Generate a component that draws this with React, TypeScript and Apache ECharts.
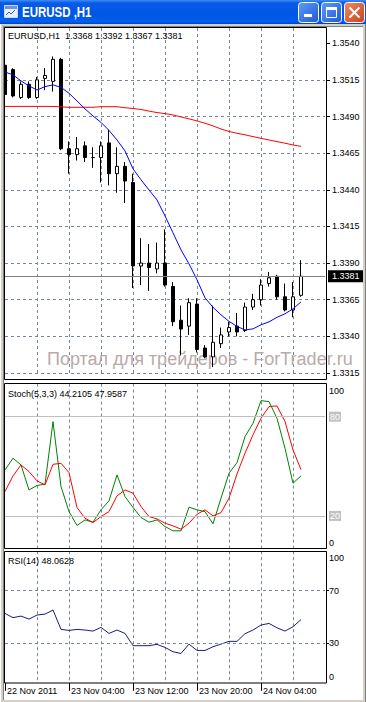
import React, { useEffect, useRef } from 'react';
import * as echarts from 'echarts';

// ---------- data ----------
const categories = [
  '22 Nov 20:00', '22 Nov 21:00', '22 Nov 22:00', '22 Nov 23:00',
  '23 Nov 00:00', '23 Nov 01:00', '23 Nov 02:00', '23 Nov 03:00',
  '23 Nov 04:00', '23 Nov 05:00', '23 Nov 06:00', '23 Nov 07:00',
  '23 Nov 08:00', '23 Nov 09:00', '23 Nov 10:00', '23 Nov 11:00',
  '23 Nov 12:00', '23 Nov 13:00', '23 Nov 14:00', '23 Nov 15:00',
  '23 Nov 16:00', '23 Nov 17:00', '23 Nov 18:00', '23 Nov 19:00',
  '23 Nov 20:00', '23 Nov 21:00', '23 Nov 22:00', '23 Nov 23:00',
  '24 Nov 00:00', '24 Nov 01:00', '24 Nov 02:00', '24 Nov 03:00',
  '24 Nov 04:00', '24 Nov 05:00', '24 Nov 06:00', '24 Nov 07:00',
  '24 Nov 08:00', '24 Nov 09:00', '24 Nov 10:00', '24 Nov 11:00',
  '24 Nov 12:00',
];

const xTickCategories = ['22 Nov 20:00', '23 Nov 04:00', '23 Nov 12:00', '23 Nov 20:00', '24 Nov 04:00'];
const xTickLabels = ['22 Nov 2011', '23 Nov 04:00', '23 Nov 12:00', '23 Nov 20:00', '24 Nov 04:00'];

const opens = [1.3525, 1.3522, 1.3503, 1.3512, 1.3503, 1.3516, 1.3514, 1.3529, 1.3468, 1.3464,
  1.3470, 1.3462, 1.3462, 1.3472, 1.3451, 1.3456, 1.3445, 1.3388, 1.3390, 1.3386,
  1.3390, 1.3374, 1.3351, 1.3347, 1.3362, 1.3332, 1.3326, 1.3335, 1.3343, 1.3347,
  1.3344, 1.3360, 1.3365, 1.3376, 1.3381, 1.3367, 1.3358, 1.3368];
const closes = [1.3505, 1.3504, 1.3512, 1.3503, 1.3515, 1.3518, 1.3529, 1.3468, 1.3464, 1.3468,
  1.3462, 1.3462, 1.3470, 1.3451, 1.3456, 1.3446, 1.3388, 1.3390, 1.3387, 1.3390,
  1.3375, 1.3350, 1.3345, 1.3363, 1.3331, 1.3326, 1.3336, 1.3341, 1.3346, 1.3343,
  1.3360, 1.3365, 1.3375, 1.3380, 1.3367, 1.3358, 1.3367, 1.3381];
const lows = [1.3504, 1.3503, 1.3502, 1.3502, 1.3502, 1.3508, 1.3507, 1.3467, 1.3451, 1.3460,
  1.3459, 1.3455, 1.3445, 1.3443, 1.3438, 1.3431, 1.3373, 1.3375, 1.3371, 1.3383,
  1.3374, 1.3347, 1.3327, 1.3341, 1.3329, 1.3325, 1.3319, 1.3332, 1.3340, 1.3340,
  1.3343, 1.3358, 1.3361, 1.3374, 1.3365, 1.3357, 1.3353, 1.3367];
const highs = [1.3526, 1.3523, 1.3514, 1.3514, 1.3517, 1.3523, 1.3531, 1.3530, 1.3473, 1.3476,
  1.3473, 1.3469, 1.3473, 1.3481, 1.3469, 1.3459, 1.3451, 1.3407, 1.3403, 1.3404,
  1.3413, 1.3377, 1.3361, 1.3366, 1.3366, 1.3334, 1.3361, 1.3346, 1.3350, 1.3356,
  1.3363, 1.3369, 1.3379, 1.3384, 1.3382, 1.3376, 1.3377, 1.3392];

const maFast = [1.35204, 1.35184, 1.35143, 1.35109, 1.35081, 1.35104, 1.35116, 1.35099, 1.35059, 1.35006,
  1.34952, 1.34904, 1.3486, 1.34805, 1.3474, 1.34665, 1.34543, 1.34468, 1.34399, 1.34331,
  1.34222, 1.34106, 1.3399, 1.33895, 1.33786, 1.33663, 1.33598, 1.33547, 1.33502, 1.33468,
  1.33444, 1.33451, 1.33479, 1.33499, 1.3353, 1.33554, 1.33588, 1.33635];
const maSlow = [1.34969, 1.34969, 1.34969, 1.34969, 1.34969, 1.34969, 1.34969, 1.34966, 1.34963, 1.34963,
  1.34963, 1.34963, 1.34967, 1.34967, 1.34967, 1.3496, 1.34955, 1.34948, 1.34937, 1.34927,
  1.3492, 1.34911, 1.34897, 1.34884, 1.3487, 1.34854, 1.34836, 1.34815, 1.34798, 1.34786,
  1.34775, 1.34763, 1.34751, 1.3474, 1.34729, 1.34718, 1.34706, 1.34696];

const stochK = [47.8, 54.9, 50.8, 35.7, 38.4, 39.2, 77.0, 37.8, 22.6, 14.2,
  17.6, 16.2, 23.7, 29.1, 44.8, 31.7, 25.1, 19.0, 16.2, 17.6,
  13.6, 11.0, 11.0, 25.3, 23.7, 22.6, 15.2, 30.7, 45.8, 52.2,
  68.0, 76.0, 89.7, 89.1, 79.0, 60.9, 39.8, 44.2105];
const stochD = [34.7, 44.2, 50.8, 46.8, 41.2, 38.8, 51.2, 51.8, 46.2, 25.1,
  18.6, 16.0, 19.6, 22.6, 32.1, 35.7, 33.7, 25.7, 19.6, 18.2,
  15.6, 14.0, 12.0, 15.6, 21.0, 23.7, 20.0, 22.0, 30.7, 45.4,
  57.9, 69.0, 79.0, 86.1, 86.5, 77.0, 59.9, 47.9587];
const rsi = [52.7, 49.5, 50.7, 48.4, 51.5, 52.2, 55.3, 40.6, 39.8, 40.6,
  40.1, 39.3, 42.1, 37.5, 40.1, 37.5, 28.2, 28.2, 28.2, 29.2,
  26.9, 23.6, 22.3, 29.4, 24.6, 24.6, 27.4, 29.4, 31.5, 31.5,
  37.3, 40.1, 43.9, 45.1, 41.8, 39.3, 42.6, 48.0628];

const priceTicks = [1.3315, 1.3340, 1.3365, 1.3390, 1.3415, 1.3440, 1.3465, 1.3490, 1.3515, 1.3540];
const stochTicks = [0, 20, 80, 100];
const stochLevels = [20, 80];
const rsiTicks = [0, 30, 70, 100];
const rsiLevels = [30, 70];

const symbolName = 'EURUSD,H1';
const windowTitle = 'EURUSD ,H1';
const watermark = 'Портал для трейдеров - ForTrader.ru';

// ---------- styling ----------
const FONT = "'Liberation Sans', Arial, sans-serif";
const GRID_COLOR = '#778899';
const DASH = [3, 3];
const PRICE_MIN = 1.3315;
const PRICE_MAX = 1.35504;

const last = opens.length - 1;
const candleData = opens.map((o, i) => [o, closes[i], lows[i], highs[i]]);

const splitEvery4 = (i: number) => i % 4 === 0 && i > 0 && i < categories.length - 1;
const isDateTick = (_i: number, v: string) => xTickCategories.indexOf(v) >= 0;

function xAxisFor(gridIndex: number, labels: boolean): any {
  return {
    type: 'category',
    gridIndex,
    data: categories,
    boundaryGap: false,
    axisLine: { show: false },
    axisTick: labels
      ? { show: true, interval: isDateTick, length: 8, lineStyle: { color: '#000', width: 1 } }
      : { show: false },
    axisLabel: labels
      ? {
          show: true,
          interval: isDateTick,
          formatter: (v: string) => {
            const k = xTickCategories.indexOf(v);
            return k >= 0 ? xTickLabels[k] : '';
          },
          align: 'left',
          padding: [0, 0, 0, 2],
          margin: 4,
          color: '#000',
          fontSize: 9,
          fontFamily: FONT,
        }
      : { show: false },
    splitLine: { show: true, interval: splitEvery4, lineStyle: { color: GRID_COLOR, type: DASH, width: 1 } },
  };
}

const indRich = {
  top: { padding: [14, 0, 0, 0], color: '#000', fontSize: 9, fontFamily: FONT },
  bot: { padding: [0, 0, 12, 0], color: '#000', fontSize: 9, fontFamily: FONT },
  lvl: { backgroundColor: '#c0c0c0', color: '#fff', padding: [1, 1, 0, 1], fontSize: 9, fontFamily: FONT },
  plain: { color: '#000', fontSize: 9, fontFamily: FONT },
};

function indicatorYAxis(gridIndex: number, ticks: number[], tickMarks: number[], boxed: boolean): any {
  return {
    type: 'value',
    gridIndex,
    position: 'right',
    offset: 1,
    min: 0,
    max: 100,
    axisLine: { show: false },
    axisTick: tickMarks.length
      ? { show: true, customValues: tickMarks, length: 3, lineStyle: { color: '#000' } }
      : { show: false },
    splitLine: { show: false },
    axisLabel: {
      customValues: ticks,
      margin: 3,
      formatter: (v: number) =>
        v === 100 ? '{top|100}' : v === 0 ? '{bot|0}' : boxed ? `{lvl|${v}}` : `{plain|${v}}`,
      rich: indRich,
    },
  };
}

function buildOption(): any {
  const title = new echarts.graphic.LinearGradient(0, 0, 0, 1, [
    { offset: 0, color: '#3D8DF5' },
    { offset: 0.12, color: '#0A5BE6' },
    { offset: 0.6, color: '#0056E6' },
    { offset: 0.9, color: '#0060EE' },
    { offset: 1, color: '#0040C8' },
  ]);
  const blueBtn = new echarts.graphic.LinearGradient(0, 0, 1, 1, [
    { offset: 0, color: '#5C9BFA' },
    { offset: 1, color: '#2158D8' },
  ]);
  const redBtn = new echarts.graphic.LinearGradient(0, 0, 1, 1, [
    { offset: 0, color: '#EE8A66' },
    { offset: 1, color: '#C8421A' },
  ]);
  const grey = '#D4D0C8';

  const graphic: any[] = [
    // watermark
    {
      type: 'text', x: 47, y: 359, z: 1, silent: true,
      style: { text: watermark, fill: '#b9aaaa', fontSize: 18, fontFamily: FONT, verticalAlign: 'middle' },
    },
    // info texts
    {
      type: 'text', x: 8, y: 36, z: 60, silent: true,
      style: {
        text: `${symbolName}  ${opens[last].toFixed(4)} ${highs[last].toFixed(4)} ${lows[last].toFixed(4)} ${closes[last].toFixed(4)}`,
        fill: '#000', fontSize: 9, fontFamily: FONT, verticalAlign: 'middle',
      },
    },
    {
      type: 'text', x: 8, y: 393.5, z: 60, silent: true,
      style: {
        text: `Stoch(5,3,3) ${stochK[last].toFixed(4)} ${stochD[last].toFixed(4)}`,
        fill: '#000', fontSize: 9, fontFamily: FONT, verticalAlign: 'middle',
      },
    },
    {
      type: 'text', x: 8, y: 561, z: 60, silent: true,
      style: { text: `RSI(14) ${rsi[last].toFixed(4)}`, fill: '#000', fontSize: 9, fontFamily: FONT, verticalAlign: 'middle' },
    },
    // panel borders
    { type: 'rect', z: 80, silent: true, shape: { x: 4.5, y: 27.5, width: 322, height: 352 }, style: { fill: 'none', stroke: '#000', lineWidth: 1 } },
    { type: 'rect', z: 80, silent: true, shape: { x: 4.5, y: 383.5, width: 322, height: 165 }, style: { fill: 'none', stroke: '#000', lineWidth: 1 } },
    { type: 'rect', z: 80, silent: true, shape: { x: 4.5, y: 551.5, width: 322, height: 131.5 }, style: { fill: 'none', stroke: '#000', lineWidth: 1 } },
    // window frame
    { type: 'rect', z: 90, silent: true, shape: { x: 0, y: 24, width: 4, height: 678 }, style: { fill: grey } },
    { type: 'rect', z: 90, silent: true, shape: { x: 363, y: 24, width: 3, height: 678 }, style: { fill: grey } },
    { type: 'rect', z: 90, silent: true, shape: { x: 0, y: 24, width: 366, height: 3 }, style: { fill: grey } },
    { type: 'rect', z: 90, silent: true, shape: { x: 0, y: 700, width: 366, height: 2 }, style: { fill: grey } },
    { type: 'line', z: 91, silent: true, shape: { x1: 3.5, y1: 26, x2: 3.5, y2: 700 }, style: { stroke: '#808080', lineWidth: 1 } },
    { type: 'line', z: 91, silent: true, shape: { x1: 3, y1: 26.5, x2: 363, y2: 26.5 }, style: { stroke: '#808080', lineWidth: 1 } },
    { type: 'line', z: 91, silent: true, shape: { x1: 0.5, y1: 24, x2: 0.5, y2: 702 }, style: { stroke: '#ffffff', lineWidth: 1 } },
    { type: 'line', z: 91, silent: true, shape: { x1: 365.5, y1: 24, x2: 365.5, y2: 702 }, style: { stroke: '#808080', lineWidth: 1 } },
    // title bar
    { type: 'rect', z: 95, silent: true, shape: { x: 0, y: 0, width: 366, height: 24 }, style: { fill: title } },
    // icon
    { type: 'rect', z: 96, silent: true, shape: { x: 4.5, y: 5.5, width: 13, height: 12 }, style: { fill: '#EAF0FA', stroke: '#C8D6EE', lineWidth: 1 } },
    { type: 'rect', z: 97, silent: true, shape: { x: 5, y: 6, width: 12, height: 3 }, style: { fill: '#6E95D8' } },
    { type: 'polyline', z: 97, silent: true, shape: { points: [[6, 15], [9, 12], [11, 14], [15, 10]] }, style: { stroke: '#2E5FB8', lineWidth: 1, fill: 'none' } },
    // title text
    {
      type: 'text', x: 22, y: 12.5, z: 97, silent: true, scaleX: 0.82,
      style: {
        text: windowTitle, fill: '#fff', fontSize: 14, fontWeight: 'bold', fontFamily: FONT, verticalAlign: 'middle',
        textShadowColor: '#0A2A8A', textShadowOffsetX: 1, textShadowOffsetY: 1, textShadowBlur: 0,
      },
    },
    // buttons
    { type: 'rect', z: 96, silent: true, shape: { x: 298.5, y: 2.5, width: 20, height: 20, r: 3 }, style: { fill: blueBtn, stroke: '#fff', lineWidth: 1 } },
    { type: 'rect', z: 97, silent: true, shape: { x: 304, y: 14, width: 8, height: 3 }, style: { fill: '#fff' } },
    { type: 'rect', z: 96, silent: true, shape: { x: 321.5, y: 2.5, width: 20, height: 20, r: 3 }, style: { fill: blueBtn, stroke: '#fff', lineWidth: 1 } },
    { type: 'rect', z: 97, silent: true, shape: { x: 326.5, y: 7.5, width: 10, height: 10 }, style: { fill: 'none', stroke: '#fff', lineWidth: 1 } },
    { type: 'rect', z: 97, silent: true, shape: { x: 326, y: 7, width: 11, height: 3 }, style: { fill: '#fff' } },
    { type: 'rect', z: 96, silent: true, shape: { x: 344.5, y: 2.5, width: 20, height: 20, r: 3 }, style: { fill: redBtn, stroke: '#fff', lineWidth: 1 } },
    { type: 'line', z: 97, silent: true, shape: { x1: 349.5, y1: 7.5, x2: 359.5, y2: 17.5 }, style: { stroke: '#fff', lineWidth: 2 } },
    { type: 'line', z: 97, silent: true, shape: { x1: 359.5, y1: 7.5, x2: 349.5, y2: 17.5 }, style: { stroke: '#fff', lineWidth: 2 } },
  ];

  const lineBase = {
    type: 'line', symbol: 'none', showSymbol: false, silent: true, animation: false,
    emphasis: { disabled: true },
  };

  return {
    animation: false,
    backgroundColor: '#ffffff',
    textStyle: { fontFamily: FONT },
    grid: [
      { left: 5, top: 28, width: 320, height: 345, outerBoundsMode: 'none' },
      { left: 5, top: 383.6, width: 320, height: 165.4, outerBoundsMode: 'none' },
      { left: 5, top: 551.2, width: 320, height: 131.6, outerBoundsMode: 'none' },
    ],
    xAxis: [xAxisFor(0, false), xAxisFor(1, false), xAxisFor(2, true)],
    yAxis: [
      {
        type: 'value',
        gridIndex: 0,
        position: 'right',
        offset: 1,
        min: PRICE_MIN,
        max: PRICE_MAX,
        interval: 0.0025,
        axisLine: { show: false },
        axisTick: { show: true, customValues: priceTicks, length: 4, lineStyle: { color: '#000' } },
        axisLabel: {
          customValues: priceTicks,
          formatter: (v: number) => v.toFixed(4),
          margin: 6,
          color: '#000',
          fontSize: 9,
          fontFamily: FONT,
        },
        splitLine: { show: true, showMaxLine: false, lineStyle: { color: GRID_COLOR, type: DASH, width: 1 } },
      },
      indicatorYAxis(1, stochTicks, [], true),
      indicatorYAxis(2, rsiTicks, rsiLevels, false),
    ],
    series: [
      {
        type: 'candlestick',
        xAxisIndex: 0,
        yAxisIndex: 0,
        data: candleData,
        barWidth: 4,
        silent: true,
        itemStyle: {
          color: '#ffffff', color0: '#000000',
          borderColor: '#000000', borderColor0: '#000000', borderColorDoji: '#000000',
          borderWidth: 1,
        },
        markLine: {
          silent: true,
          animation: false,
          precision: 4,
          symbol: ['none', 'none'],
          lineStyle: { color: '#808080', type: 'solid', width: 1 },
          label: {
            position: 'end',
            distance: 3,
            formatter: (p: any) => Number(p.value).toFixed(4),
            color: '#fff',
            backgroundColor: '#000',
            padding: [2, 4, 1, 4],
            fontSize: 9,
            fontFamily: FONT,
          },
          emphasis: { disabled: true },
          data: [{ yAxis: closes[last] }],
        },
      },
      { ...lineBase, xAxisIndex: 0, yAxisIndex: 0, data: maSlow, lineStyle: { color: '#ff0000', width: 1 } },
      { ...lineBase, xAxisIndex: 0, yAxisIndex: 0, data: maFast, lineStyle: { color: '#0000ff', width: 1 } },
      {
        ...lineBase, xAxisIndex: 1, yAxisIndex: 1, data: stochK, lineStyle: { color: '#008000', width: 1 },
        markLine: {
          silent: true, animation: false, symbol: ['none', 'none'], precision: 2,
          lineStyle: { color: '#c0c0c0', type: 'solid', width: 1 },
          label: { show: false },
          emphasis: { disabled: true },
          data: stochLevels.map((v) => ({ yAxis: v })),
        },
      },
      { ...lineBase, xAxisIndex: 1, yAxisIndex: 1, data: stochD, lineStyle: { color: '#ff0000', width: 1 } },
      {
        ...lineBase, xAxisIndex: 2, yAxisIndex: 2, data: rsi, lineStyle: { color: '#1c1c84', width: 1 },
        markLine: {
          silent: true, animation: false, symbol: ['none', 'none'], precision: 2,
          lineStyle: { color: GRID_COLOR, type: DASH, width: 1 },
          label: { show: false },
          emphasis: { disabled: true },
          data: rsiLevels.map((v) => ({ yAxis: v })),
        },
      },
    ],
    graphic,
  };
}

export default function App() {
  const ref = useRef<HTMLDivElement>(null);
  useEffect(() => {
    if (!ref.current) return;
    const chart = echarts.init(ref.current, null, { renderer: 'svg' });
    chart.setOption(buildOption());
    return () => chart.dispose();
  }, []);
  return (
    <div
      ref={ref}
      style={{ position: 'fixed', left: 0, top: 0, width: 366, height: 702, background: '#fff' }}
    />
  );
}
